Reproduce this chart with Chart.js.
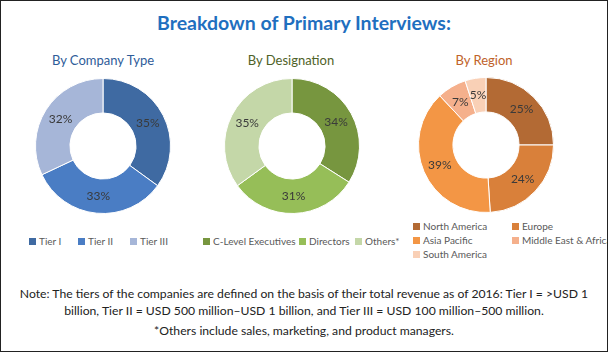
<!DOCTYPE html>
<html>
<head>
<meta charset="utf-8">
<script src="https://cdn.jsdelivr.net/npm/chart.js@4.4.0/dist/chart.umd.min.js"></script>
<style>
  html, body { margin: 0; padding: 0; background: #fff; }
  #frame {
    position: relative; width: 608px; height: 352px; box-sizing: border-box;
    border: 1px solid #222; font-family: Lato, "Open Sans", sans-serif; overflow: hidden;
  }
  .abs { position: absolute; }
  #title { left: 0; width: 606px; top: 10px; text-align: center; font-size: 19.5px; font-weight: bold; color: #1f6fbf; }
  .sub { font-size: 13px; text-align: center; width: 180px; top: 51px; }
  .legend { font-size: 10px; color: #595959; white-space: nowrap; }
  .legend span.sw { display: inline-block; width: 7px; height: 7px; margin-right: 3px; vertical-align: 0px; }
  .legend .item { position: absolute; }
  #note { left: 0; width: 606px; top: 284px; text-align: center; font-size: 12.2px; color: #222; line-height: 17px; }
  #note2 { left: 0; width: 606px; top: 322px; text-align: center; font-size: 12.2px; color: #222; }
</style>
</head>
<body>
<div id="frame">
  <div id="title" class="abs">Breakdown of Primary Interviews:</div>
  <div class="abs sub" style="left:12px;color:#2e5c99;">By Company Type</div>
  <div class="abs sub" style="left:200px;color:#4f6228;">By Designation</div>
  <div class="abs sub" style="left:393px;color:#c0622a;">By Region</div>

  <div class="abs" style="left:34px;top:77px;width:136px;height:136px;"><canvas id="c1"></canvas></div>
  <div class="abs" style="left:223px;top:77px;width:136px;height:136px;"><canvas id="c2"></canvas></div>
  <div class="abs" style="left:417px;top:76px;width:136px;height:136px;"><canvas id="c3"></canvas></div>

  <div id="lg1" class="abs legend" style="left:0;top:0;"></div>
  <div id="lg2" class="abs legend" style="left:0;top:0;"></div>
  <div id="lg3" class="abs legend" style="left:0;top:0;"></div>

  <div id="note" class="abs">Note: The tiers of the companies are defined on the basis of their total revenue as of 2016: Tier I = &gt;USD 1<br>billion, Tier II = USD 500 million–USD 1 billion, and Tier III = USD 100 million–500 million.</div>
  <div id="note2" class="abs">*Others include sales, marketing, and product managers.</div>
</div>
<script>
const companyLabels = ['Tier I', 'Tier II', 'Tier III'];
const companyValues = [35, 33, 32];
const companyColors = ['#3f6aa2', '#4a7dc4', '#a6b6d8'];

const designationLabels = ['C-Level Executives', 'Directors', 'Others*'];
const designationValues = [34, 31, 35];
const designationColors = ['#77963f', '#96be58', '#c4d7a8'];

const regionLabels = ['North America', 'Europe', 'Asia Pacific', 'Middle East & Africa', 'South America'];
const regionValues = [25, 24, 39, 7, 5];
const regionColors = ['#b36a34', '#d9803a', '#f39645', '#f5b08c', '#f9d0b6'];

// draws "NN%" in the middle of each slice
const sliceLabels = {
  id: 'sliceLabels',
  afterDatasetsDraw(chart) {
    const ctx = chart.ctx;
    const ds = chart.data.datasets[0];
    chart.getDatasetMeta(0).data.forEach((arc, i) => {
      const p = arc.tooltipPosition();
      ctx.save();
      ctx.font = '12px Lato, "Open Sans", sans-serif';
      ctx.fillStyle = '#3a3a3a';
      ctx.textAlign = 'center';
      ctx.textBaseline = 'middle';
      ctx.fillText(ds.data[i] + '%', p.x, p.y);
      ctx.restore();
    });
  }
};

function makeDonut(id, labels, values, colors) {
  return new Chart(document.getElementById(id), {
    type: 'doughnut',
    data: {
      labels: labels,
      datasets: [{ data: values, backgroundColor: colors, borderColor: '#fff', borderWidth: 1 }]
    },
    options: {
      responsive: true,
      maintainAspectRatio: false,
      animation: false,
      cutout: '49%',
      layout: { padding: 0 },
      plugins: { legend: { display: false }, tooltip: { enabled: false } }
    },
    plugins: [sliceLabels]
  });
}

makeDonut('c1', companyLabels, companyValues, companyColors);
makeDonut('c2', designationLabels, designationValues, designationColors);
makeDonut('c3', regionLabels, regionValues, regionColors);

function legend(id, labels, colors, spots) {
  const el = document.getElementById(id);
  labels.forEach((l, i) => {
    const d = document.createElement('div');
    d.className = 'item';
    d.style.left = spots[i][0] + 'px';
    d.style.top = spots[i][1] + 'px';
    d.innerHTML = '<span class="sw" style="background:' + colors[i] + '"></span>' + l;
    el.appendChild(d);
  });
}

legend('lg1', companyLabels, companyColors, [[28, 234], [77, 234], [129, 234]]);
legend('lg2', designationLabels, designationColors, [[202, 234], [298, 234], [354, 234]]);
legend('lg3', regionLabels, regionColors, [[412, 219], [511, 219], [412, 233], [511, 233], [412, 247]]);
</script>
</body>
</html>
